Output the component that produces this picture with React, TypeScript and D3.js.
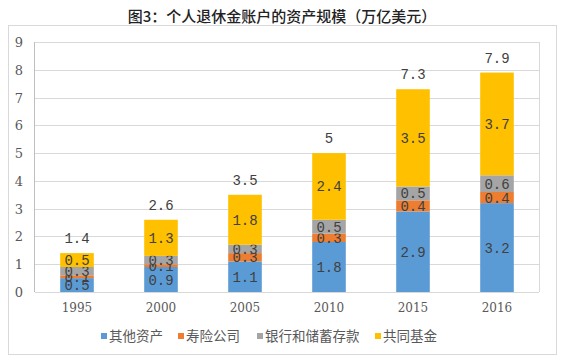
import * as d3 from "d3";

const years = ["1995", "2000", "2005", "2010", "2015", "2016"];
const seriesNames = ["其他资产", "寿险公司", "银行和储蓄存款", "共同基金"];
const otherAssets = [0.5, 0.9, 1.1, 1.8, 2.9, 3.2];
const lifeInsurance = [0.1, 0.1, 0.3, 0.3, 0.4, 0.4];
const bankDeposits = [0.3, 0.3, 0.3, 0.5, 0.5, 0.6];
const mutualFunds = [0.5, 1.3, 1.8, 2.4, 3.5, 3.7];
const totals = ["1.4", "2.6", "3.5", "5", "7.3", "7.9"];
const yTicks = [0, 1, 2, 3, 4, 5, 6, 7, 8, 9];
const colors = ["#5B9BD5", "#ED7D31", "#A5A5A5", "#FFC000"];

const W = 564;
const H = 358;
const font = "'Noto Sans CJK SC', 'DejaVu Sans', sans-serif";

export default function App() {
  const x = d3.scaleBand().domain(years).range([35, 539]).paddingInner(0.6).paddingOuter(0.3);
  const y = d3.scaleLinear().domain([0, 9]).range([292, 42]);

  const rows = years.map((yr, i) => ({
    year: yr,
    s0: otherAssets[i],
    s1: lifeInsurance[i],
    s2: bankDeposits[i],
    s3: mutualFunds[i],
  }));
  const stack = d3.stack<any>().keys(["s0", "s1", "s2", "s3"])(rows);

  const legendX = [101, 178, 257, 375];

  return (
    <svg width={W} height={H} style={{ position: "absolute", left: 0, top: 0 }}>
      <rect x={0} y={0} width={W} height={H} fill="#fff" />
      <text x={282} y={22} textAnchor="middle" fontFamily={font} fontSize={15} fontWeight={500} fill="#222">
        图3：个人退休金账户的资产规模（万亿美元）
      </text>
      <rect x={8.5} y={25.5} width={548} height={329} fill="none" stroke="#d9d9d9" />
      {yTicks.map((t) => (
        <g key={t}>
          <line x1={35} x2={539} y1={Math.round(y(t)) + 0.5} y2={Math.round(y(t)) + 0.5} stroke="#d9d9d9" />
          <text x={23} y={y(t) + 5} textAnchor="end" fontFamily="'DejaVu Serif', serif" fontSize={13} fill="#595959">
            {t}
          </text>
        </g>
      ))}
      <line x1={34.5} x2={34.5} y1={42} y2={292} stroke="#bfbfbf" />
      <line x1={539.5} x2={539.5} y1={42} y2={292} stroke="#d9d9d9" />
      {stack.map((layer, si) =>
        layer.map((d, i) => (
          <g key={si + "-" + i}>
            <rect
              x={x(years[i])}
              y={y(d[1])}
              width={x.bandwidth()}
              height={y(d[0]) - y(d[1])}
              fill={colors[si]}
            />
            <text
              x={x(years[i])! + x.bandwidth() / 2}
              y={(y(d[0]) + y(d[1])) / 2 + 5}
              textAnchor="middle"
              fontFamily="'Liberation Mono', 'DejaVu Sans Mono', monospace"
              fontSize={14}
              fill="#404040"
            >
              {(d[1] - d[0]).toFixed(1)}
            </text>
          </g>
        ))
      )}
      {years.map((yr, i) => (
        <g key={yr}>
          <text
            x={x(yr)! + x.bandwidth() / 2}
            y={y(+totals[i]) - 10}
            textAnchor="middle"
            fontFamily="'Liberation Mono', 'DejaVu Sans Mono', monospace"
            fontSize={14}
            fill="#404040"
          >
            {totals[i]}
          </text>
          <text
            x={x(yr)! + x.bandwidth() / 2}
            y={312}
            textAnchor="middle"
            fontFamily="'DejaVu Serif', serif"
            fontSize={12}
            fill="#595959"
          >
            {yr}
          </text>
        </g>
      ))}
      {seriesNames.map((n, i) => (
        <g key={n}>
          <rect x={legendX[i]} y={333} width={6} height={6} fill={colors[i]} />
          <text x={legendX[i] + 8} y={341} fontFamily={font} fontSize={13.5} fill="#595959">
            {n}
          </text>
        </g>
      ))}
    </svg>
  );
}
